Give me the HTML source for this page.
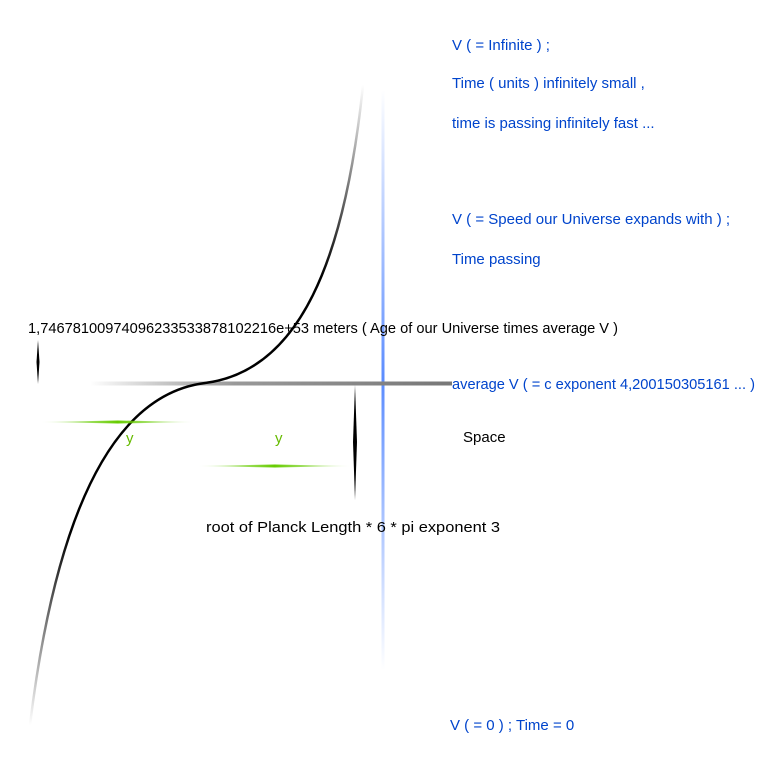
<!DOCTYPE html>
<html><head><meta charset="utf-8"><style>html,body{margin:0;background:#fff}svg{display:block}text{font-family:"Liberation Sans",sans-serif;font-size:15px}</style></head><body>
<svg width="768" height="768" viewBox="0 0 768 768" xmlns="http://www.w3.org/2000/svg">
<defs>
<linearGradient id="cv" x1="0" y1="1" x2="0" y2="0"><stop offset="0" stop-color="#000" stop-opacity="0"/><stop offset="0.3" stop-color="#000"/><stop offset="0.7" stop-color="#000"/><stop offset="1" stop-color="#000" stop-opacity="0"/></linearGradient>
<linearGradient id="bl" x1="0" y1="0" x2="0" y2="1"><stop offset="0" stop-color="#5b8cff" stop-opacity="0"/><stop offset="0.5" stop-color="#5b8cff"/><stop offset="1" stop-color="#5b8cff" stop-opacity="0"/></linearGradient>
<linearGradient id="gr" x1="0" x2="1"><stop offset="0" stop-color="#888" stop-opacity="0"/><stop offset="0.4" stop-color="#999"/><stop offset="1" stop-color="#777"/></linearGradient>
<linearGradient id="gn" x1="0" x2="1"><stop offset="0" stop-color="#66cc00" stop-opacity="0"/><stop offset="0.5" stop-color="#66cc00"/><stop offset="1" stop-color="#66cc00" stop-opacity="0"/></linearGradient>
</defs>
<rect x="381.5" y="90" width="3" height="580" fill="url(#bl)"/>
<rect x="90" y="381.5" width="362" height="4" fill="url(#gr)"/>
<path d="M30,725 C55,520 110,395 205,383 C300,371 345,260 363,85" fill="none" stroke="url(#cv)" stroke-width="2.5"/>
<polygon points="38,340 39.5,362 38,384 36.5,362" fill="#000"/>
<polygon points="355,385 357,442 355,500 353,442" fill="#000"/>
<polygon points="40,422 118,420.5 195,422 118,423.5" fill="url(#gn)"/>
<polygon points="197,466 275,464.5 352,466 275,467.5" fill="url(#gn)"/>
<g fill="#0044cc">
<text x="452" y="50">V  ( = Infinite ) ;</text>
<text x="452" y="88">Time ( units ) infinitely small ,</text>
<text x="452" y="128">time is passing infinitely fast  ...</text>
<text x="452" y="224">V  ( = Speed our Universe expands with ) ;</text>
<text x="452" y="264">Time passing</text>
<text x="452" y="389" textLength="303" lengthAdjust="spacingAndGlyphs">average  V  ( = c exponent 4,200150305161 ... )</text>
<text x="450" y="730">V  ( = 0 ) ;  Time = 0</text>
</g>
<text x="28" y="333" textLength="590" lengthAdjust="spacingAndGlyphs">1,7467810097409623353387810221​6e+53  meters  (  Age of our Universe times average V  )</text>
<text x="463" y="442">Space</text>
<text x="206" y="532" textLength="294" lengthAdjust="spacingAndGlyphs">root of  Planck Length  *  6  *  pi  exponent  3</text>
<text x="126" y="443" fill="#66bb00">y</text>
<text x="275" y="443" fill="#66bb00">y</text>
</svg>
</body></html>
